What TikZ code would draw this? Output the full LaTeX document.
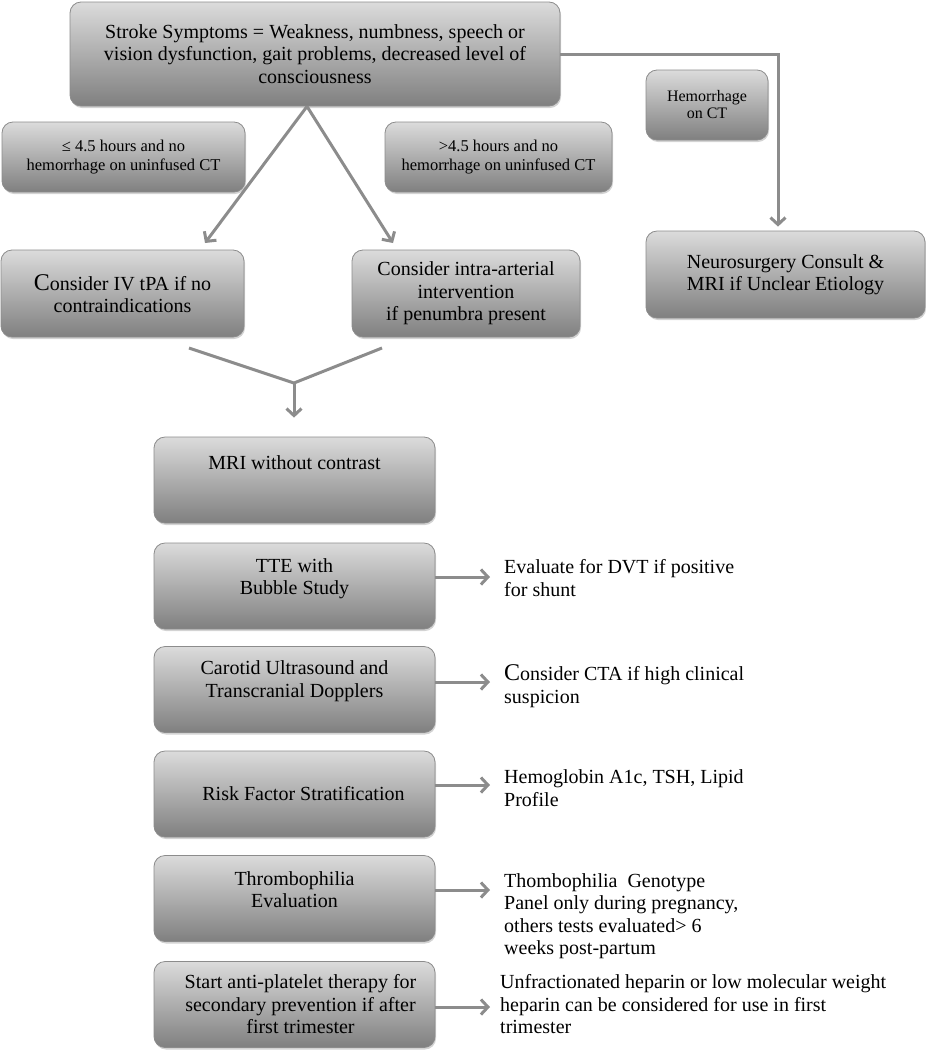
\documentclass[tikz,border=0pt]{standalone}
\usepackage{fontspec}
\setmainfont{Liberation Serif}
\usetikzlibrary{arrows.meta,shadows,calc}
\newcommand{\fs}[2]{\fontsize{#1}{#2}\selectfont}
\newcommand{\bigC}{{\fontsize{24}{22.5}\selectfont C}}
\tikzset{
  box/.style={draw=black!45, line width=0.8pt, rounded corners=11pt,
    top color=black!14, bottom color=black!50, align=center, text=black,
    drop shadow={shadow xshift=1pt, shadow yshift=-2pt, opacity=0.35}},
  side/.style={anchor=west, align=left, inner sep=0pt, font=\fs{20}{22.5}},
  conn/.style={draw=black!45, line width=3pt},
  arr/.style={conn, -{Straight Barb[length=7pt, width=15pt]}},
}
\begin{document}
\begin{tikzpicture}[x=1pt, y=-1pt, font=\fs{20}{22.5}]
\useasboundingbox (0,0) rectangle (926,1050);

% upper boxes
\node[box, minimum width=490pt, minimum height=104pt] (top) at (315,54)
  {Stroke Symptoms = Weakness, numbness, speech or\\vision dysfunction, gait problems, decreased level of\\consciousness};
\node[box, minimum width=243pt, minimum height=70pt, font=\fs{16.5}{19}] (condL) at (123.5,157)
  {≤ 4.5 hours and no\\hemorrhage on uninfused CT};
\node[box, minimum width=227pt, minimum height=70pt, font=\fs{16.5}{19}] (condM) at (498.5,157)
  {>4.5 hours and no\\hemorrhage on uninfused CT};
\node[box, minimum width=122pt, minimum height=70pt, font=\fs{16}{17}] (hem) at (707,105)
  {Hemorrhage\\on CT};
\node[box, minimum width=279pt, minimum height=87pt] (neuro) at (785.5,274.5)
  {Neurosurgery Consult \&\\MRI if Unclear Etiology};
\node[box, minimum width=243pt, minimum height=87pt] (tpa) at (122.5,293.5)
  {\bigC onsider IV tPA if no\\contraindications};
\node[box, minimum width=228pt, minimum height=87pt] (intra) at (466,293.5)
  {Consider intra-arterial\\intervention\\if penumbra present};

% lower column
\node[box, minimum width=281pt, minimum height=86pt] (mri) at (294.5,480)
  {MRI without contrast\\[12pt]\mbox{}};
\node[box, minimum width=281pt, minimum height=86pt] (tte) at (294.5,586)
  {TTE with\\Bubble Study\\[-4pt]\mbox{}};
\node[box, minimum width=281pt, minimum height=86pt] (car) at (294.5,689.5)
  {Carotid Ultrasound and\\Transcranial Dopplers\\[-2pt]\mbox{}};
\node[box, minimum width=281pt, minimum height=86pt] (risk) at (294.5,794)
  {\hspace*{18pt}Risk Factor Stratification};
\node[box, minimum width=281pt, minimum height=86pt] (thr) at (294.5,898.5)
  {Thrombophilia\\Evaluation\\[-5pt]\mbox{}};
\node[box, minimum width=281pt, minimum height=86pt] (start) at (294.5,1004.5)
  {\hspace*{12pt}Start anti-platelet therapy for\\\hspace*{12pt}secondary prevention if after\\\hspace*{12pt}first trimester};

% side texts
\node[side] (tteR) at (504,578) {Evaluate for DVT if positive\\for shunt};
\node[side] (carR) at (504,686) {\bigC onsider CTA if high clinical\\suspicion};
\node[side] (riskR) at (504,788) {Hemoglobin A1c, TSH, Lipid\\Profile};
\node[side] (thrR) at (504,916) {Thombophilia\ \ Genotype\\Panel only during pregnancy,\\others tests evaluated> 6\\weeks post-partum};
\node[side] (startR) at (500,1004.5) {Unfractionated heparin or low molecular weight\\heparin can be considered for use in first\\trimester};

% connector points
\coordinate (apex) at ([xshift=-8pt]top.south);
\coordinate (tipL) at (205,243);
\coordinate (tipR) at (393,243);
\coordinate (mL) at (189,348);
\coordinate (mR) at (382,348);
\coordinate (mJ) at (294,383);
\coordinate (tteA) at ([yshift=9pt]tte.east);
\coordinate (carA) at ([yshift=7.5pt]car.east);
\coordinate (riskA) at ([yshift=9pt]risk.east);
\coordinate (thrA) at ([yshift=8.5pt]thr.east);
\coordinate (startA) at ([yshift=-2.5pt]start.east);

% connectors
\draw[arr] (apex) -- (tipL);
\draw[arr] (apex) -- (tipR);
\draw[arr] (top.east) -| ([xshift=-7.5pt]neuro.north) [shorten >=4pt];
\draw[conn] (mL) -- (mJ) -- (mR);
\draw[arr, shorten >=19pt] (mJ) -- (mJ |- mri.north);
\draw[arr, shorten >=14pt] (tteA) -- (tteA -| tteR.west);
\draw[arr, shorten >=14pt] (carA) -- (carA -| carR.west);
\draw[arr, shorten >=14pt] (riskA) -- (riskA -| riskR.west);
\draw[arr, shorten >=14pt] (thrA) -- (thrA -| thrR.west);
\draw[arr, shorten >=10pt] (startA) -- (startA -| startR.west);
\end{tikzpicture}
\end{document}
